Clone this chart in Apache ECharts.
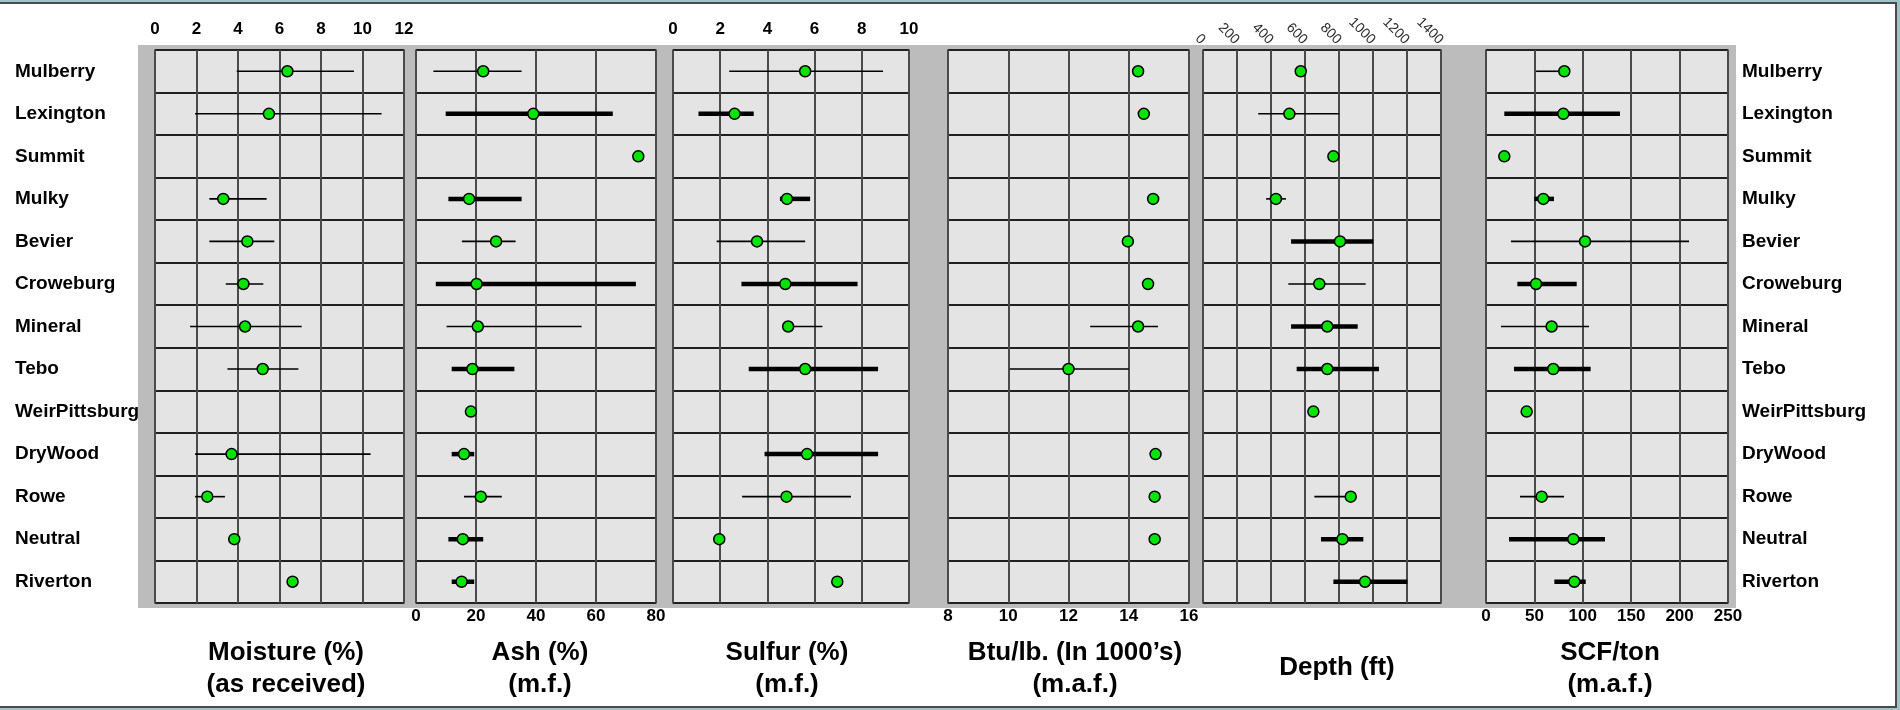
<!DOCTYPE html>
<html>
<head>
<meta charset="utf-8">
<script src="https://cdn.jsdelivr.net/npm/echarts@6/dist/echarts.min.js"></script>
<style>
html,body{margin:0;padding:0;background:#fff;}
#chart{width:1900px;height:710px;}
</style>
</head>
<body>
<div id="chart"></div>
<script>
const categories = ['Mulberry','Lexington','Summit','Mulky','Bevier','Croweburg','Mineral','Tebo','WeirPittsburg','DryWood','Rowe','Neutral','Riverton'];

// Moisture (%) as received
const moistureVal   = [6.38, 5.49, null, 3.29, 4.45, 4.26, 4.34, 5.19, null, 3.69, 2.52, 3.82, 6.63];
const moistureLo    = [3.94, 1.93, null, 2.62, 2.62, 3.41, 1.69, 3.49, null, 1.93, 1.93, null, null];
const moistureHi    = [9.59, 10.92, null, 5.38, 5.75, 5.22, 7.07, 6.91, null, 10.39, 3.37, null, null];
const moistureThick = [0,0,0,0,0,0,0,0,0,0,0,0,0];
const moistureTicks = [0, 12, 2];

// Ash (%) m.f.
const ashVal   = [22.4, 39.1, 74.1, 17.7, 26.7, 20.2, 20.6, 18.8, 18.3, 16.0, 21.6, 15.6, 15.2];
const ashLo    = [5.8, 9.9, null, 10.8, 15.3, 6.6, 10.2, 11.9, null, 11.9, 16.0, 10.8, 11.9];
const ashHi    = [35.2, 65.6, null, 35.2, 33.2, 73.3, 55.2, 32.8, null, 19.4, 28.6, 22.4, 19.4];
const ashThick = [0,1,0,1,0,1,0,1,0,1,0,1,1];
const ashTicks = [0, 80, 20];

// Sulfur (%) m.f.
const sulfurVal   = [5.60, 2.61, null, 4.83, 3.56, 4.76, 4.88, 5.60, null, 5.68, 4.81, 1.96, 6.96];
const sulfurLo    = [2.38, 1.08, null, 4.53, 1.85, 2.90, 4.67, 3.21, null, 3.88, 2.93, null, null];
const sulfurHi    = [8.90, 3.42, null, 5.81, 5.60, 7.82, 6.33, 8.69, null, 8.69, 7.54, null, null];
const sulfurThick = [0,1,0,1,0,1,0,1,0,1,0,0,0];
const sulfurTicks = [0, 10, 2];

// Btu/lb (in 1000's) m.a.f.
const btuVal   = [14.31, 14.50, null, 14.81, 13.97, 14.64, 14.31, 12.00, null, 14.89, 14.86, 14.86, null];
const btuLo    = [null, null, null, null, null, null, 12.72, 10.05, null, null, null, null, null];
const btuHi    = [null, null, null, null, null, null, 14.97, 14.00, null, null, null, null, null];
const btuThick = [0,0,0,0,0,0,0,0,0,0,0,0,0];
const btuTicks = [8, 16, 2];

// Depth (ft)
const depthVal   = [575, 508, 767, 429, 806, 684, 731, 731, 649, null, 869, 820, 953];
const depthLo    = [null, 325, null, 371, 518, 502, 518, 551, null, null, 655, 694, 767];
const depthHi    = [null, 802, null, 488, 1002, 957, 910, 1035, null, null, 869, 943, 1202];
const depthThick = [0,0,0,0,1,0,1,1,0,0,0,1,1];
const depthTicks = [0, 1400, 200];

// SCF/ton m.a.f.
const scfVal   = [80.9, 79.9, 18.9, 59.2, 102.3, 51.7, 67.8, 69.5, 42.0, null, 57.5, 90.2, 91.2];
const scfLo    = [51.7, 18.9, null, 49.9, 25.8, 32.4, 15.5, 28.9, null, null, 35.1, 23.8, 70.6];
const scfHi    = [80.9, 138.4, null, 70.2, 209.7, 93.7, 106.4, 108.1, null, null, 80.6, 122.9, 103.0];
const scfThick = [0,1,0,1,0,1,0,1,0,0,0,1,1];
const scfTicks = [0, 250, 50];

const titles = [
  'Moisture (%)\n(as received)',
  'Ash (%)\n(m.f.)',
  'Sulfur (%)\n(m.f.)',
  'Btu/lb. (In 1000\u2019s)\n(m.a.f.)',
  'Depth (ft)',
  'SCF/ton\n(m.a.f.)'
];

const panels = [
  {val: moistureVal, lo: moistureLo, hi: moistureHi, thick: moistureThick, ticks: moistureTicks, left: 155, width: 249, pos: 'top'},
  {val: ashVal, lo: ashLo, hi: ashHi, thick: ashThick, ticks: ashTicks, left: 416, width: 240, pos: 'bottom'},
  {val: sulfurVal, lo: sulfurLo, hi: sulfurHi, thick: sulfurThick, ticks: sulfurTicks, left: 673, width: 236, pos: 'top'},
  {val: btuVal, lo: btuLo, hi: btuHi, thick: btuThick, ticks: btuTicks, left: 948, width: 241, pos: 'bottom'},
  {val: depthVal, lo: depthLo, hi: depthHi, thick: depthThick, ticks: depthTicks, left: 1203, width: 238, pos: 'top', rot: true},
  {val: scfVal, lo: scfLo, hi: scfHi, thick: scfThick, ticks: scfTicks, left: 1486, width: 242, pos: 'bottom'}
];

const FONT = '"Liberation Sans", Arial, sans-serif';
const TOP = 50, HEIGHT = 553;

const grid = [], xAxis = [], yAxis = [], series = [];
panels.forEach((p, k) => {
  grid.push({left: p.left, width: p.width, top: TOP, height: HEIGHT, show: true,
    backgroundColor: '#e4e4e4', borderColor: '#858585', borderWidth: 2});
  xAxis.push({
    type: 'value', gridIndex: k, position: p.pos,
    min: p.ticks[0], max: p.ticks[1], interval: p.ticks[2],
    axisLine: {show: false}, axisTick: {show: false},
    splitLine: {show: true, lineStyle: {color: '#4a4a4a', width: 2}},
    axisLabel: p.rot ? {
      rotate: 45, margin: 8, fontSize: 14, color: '#2a2a2a', fontFamily: FONT, fontWeight: 'normal',
      formatter: function (v) { return String(v); }
    } : {
      margin: p.pos === 'top' ? 12 : 5, fontSize: 17, fontWeight: 'bold', color: '#000', fontFamily: FONT
    }
  });
  const yl = {show: false};
  if (k === 0) Object.assign(yl, {show: true, align: 'left', margin: 140, fontSize: 19, fontWeight: 'bold', color: '#000', fontFamily: FONT});
  if (k === panels.length - 1) Object.assign(yl, {show: true, align: 'left', margin: 14, fontSize: 19, fontWeight: 'bold', color: '#000', fontFamily: FONT});
  yAxis.push({
    type: 'category', gridIndex: k, data: categories, inverse: true,
    position: k === panels.length - 1 ? 'right' : 'left',
    axisLine: {show: false}, axisTick: {show: false},
    splitLine: {show: true, lineStyle: {color: '#202020', width: 2}},
    axisLabel: yl
  });
  const rangeData = [];
  const dotData = [];
  categories.forEach((c, i) => {
    if (p.lo[i] != null && p.hi[i] != null) rangeData.push([p.lo[i], p.hi[i], i, p.thick[i]]);
    if (p.val[i] != null) dotData.push([p.val[i], i]);
  });
  series.push({
    type: 'custom', xAxisIndex: k, yAxisIndex: k, z: 3,
    encode: {x: [0, 1], y: 2},
    data: rangeData,
    renderItem: function (params, api) {
      const a = api.coord([api.value(0), api.value(2)]);
      const b = api.coord([api.value(1), api.value(2)]);
      return {type: 'line', shape: {x1: a[0], y1: a[1], x2: b[0], y2: b[1]},
        style: {stroke: '#000', lineWidth: api.value(3) ? 4.5 : 1.6}};
    },
    silent: true
  });
  series.push({
    type: 'scatter', xAxisIndex: k, yAxisIndex: k, z: 5,
    symbol: 'circle', symbolSize: 11,
    itemStyle: {color: '#00e400', borderColor: '#000', borderWidth: 1.5, opacity: 1},
    data: dotData, silent: true
  });
});

const titleX = [286, 540, 787, 1075, 1337, 1610];
const graphic = [
  {type: 'rect', z: -30, shape: {x: 0, y: 0, width: 1900, height: 710}, style: {fill: '#9fc3c9'}},
  {type: 'rect', z: -29, shape: {x: -3, y: 3, width: 1899, height: 704}, style: {fill: '#ffffff', stroke: '#4a4a4a', lineWidth: 2}},
  {type: 'rect', z: -28, shape: {x: 138, y: 45, width: 1598, height: 563}, style: {fill: '#bcbcbc'}}
];
titles.forEach((t, k) => {
  const twoLine = t.indexOf('\n') >= 0;
  graphic.push({
    type: 'text', z: 10, x: titleX[k], y: twoLine ? 637 : 652,
    style: {text: t, fill: '#000', fontSize: 26, fontWeight: 'bold', fontFamily: FONT,
      lineHeight: 32, align: 'center', textAlign: 'center', verticalAlign: 'top', textVerticalAlign: 'top'}
  });
});

const chart = echarts.init(document.getElementById('chart'), null, {renderer: 'canvas'});
chart.setOption({
  animation: false,
  backgroundColor: 'transparent',
  grid, xAxis, yAxis, series, graphic
});
</script>
</body>
</html>
